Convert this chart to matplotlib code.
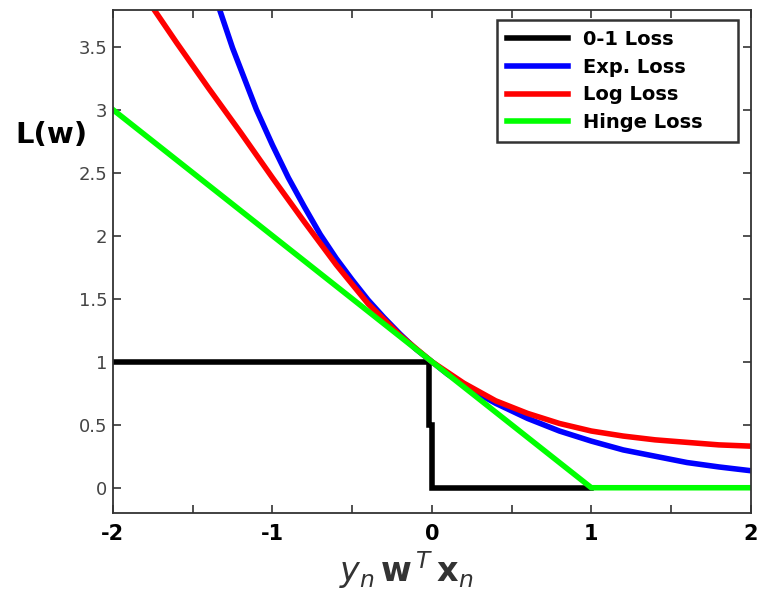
import numpy as np
import matplotlib
matplotlib.use("Agg")
import matplotlib.pyplot as plt
from matplotlib.ticker import MultipleLocator

# values
zo_x = [-2.0, -0.015, -0.015, 0.0, 0.0, 1.0]
zo_y = [1.0, 1.0, 0.5, 0.5, 0.0, 0.0]

exp_x = [-1.33, -1.25, -1.1, -1.0, -0.9, -0.8, -0.7, -0.6, -0.5, -0.4, -0.3,
         -0.2, -0.1, 0.0, 0.1, 0.2, 0.3, 0.4, 0.5, 0.6, 0.7, 0.8, 0.9, 1.0,
         1.2, 1.4, 1.6, 1.8, 2.0]
exp_y = [3.79, 3.49, 3.0, 2.72, 2.46, 2.23, 2.01, 1.82, 1.65, 1.49, 1.35,
         1.22, 1.1, 1.0, 0.9, 0.82, 0.74, 0.67, 0.61, 0.55, 0.5, 0.45, 0.41, 0.37,
         0.30, 0.25, 0.20, 0.165, 0.135]

log_x = [-1.74, -1.6, -1.4, -1.2, -1.0, -0.8, -0.6, -0.4, -0.2, 0.0,
         0.2, 0.4, 0.6, 0.8, 1.0, 1.2, 1.4, 1.6, 1.8, 2.0]
log_y = [3.79, 3.53, 3.17, 2.82, 2.46, 2.11, 1.77, 1.46, 1.21, 1.0,
         0.83, 0.69, 0.59, 0.51, 0.45, 0.41, 0.38, 0.36, 0.34, 0.33]

hinge_x = [-2.0, 1.0, 2.0]
hinge_y = [3.0, 0.0, 0.0]

fig = plt.figure(figsize=(7.63, 5.93), dpi=100)
ax = fig.add_axes([0.148, 0.135, 0.836, 0.848])

lw = 4
ax.plot(zo_x, zo_y, color='black', lw=lw, label='0-1 Loss', solid_joinstyle='miter')
ax.plot(exp_x, exp_y, color='#0000ff', lw=lw, label='Exp. Loss')
ax.plot(log_x, log_y, color='#ff0000', lw=lw, label='Log Loss')
ax.plot(hinge_x, hinge_y, color='#00ff00', lw=lw, label='Hinge Loss')

ax.set_xlim(-2, 2)
ax.set_ylim(-0.2, 3.79)
ax.xaxis.set_minor_locator(MultipleLocator(0.5))
ax.set_yticks([0, 0.5, 1, 1.5, 2, 2.5, 3, 3.5])
ax.set_yticklabels(['0', '0.5', '1', '1.5', '2', '2.5', '3', '3.5'])
ax.set_xticks([-2, -1, 0, 1, 2])
ax.set_xticklabels(['-2', '-1', '0', '1', '2'], fontweight='bold', fontsize=15)

ax.tick_params(which='both', direction='in', top=True, right=True,
               length=6, width=1.2, color='#333333')
ax.tick_params(axis='y', labelsize=13, labelcolor='#444444', pad=4)
ax.tick_params(axis='x', pad=8)
for s in ax.spines.values():
    s.set_color('#333333')
    s.set_linewidth(1.3)

ax.set_ylabel('L(w)', fontsize=21, fontweight='bold', rotation=0,
              ha='center', va='center')
ax.yaxis.set_label_coords(-0.096, 0.752)
ax.set_xlabel(r'$y_n\,\mathbf{w}^{\,T}\,\mathbf{x}_n$', fontsize=24, color='#333333')
ax.xaxis.set_label_coords(0.46, -0.072)

leg = ax.legend(loc='upper left', bbox_to_anchor=(0.602, 0.5, 0.378, 0.48),
                mode='expand', borderaxespad=0, fancybox=False,
                edgecolor='black', handlelength=3.15, borderpad=0.5,
                labelspacing=0.45, handletextpad=0.8,
                prop={'weight': 'bold', 'size': 14})
leg.get_frame().set_linewidth(1.8)

fig.savefig('out.png', dpi=100)
